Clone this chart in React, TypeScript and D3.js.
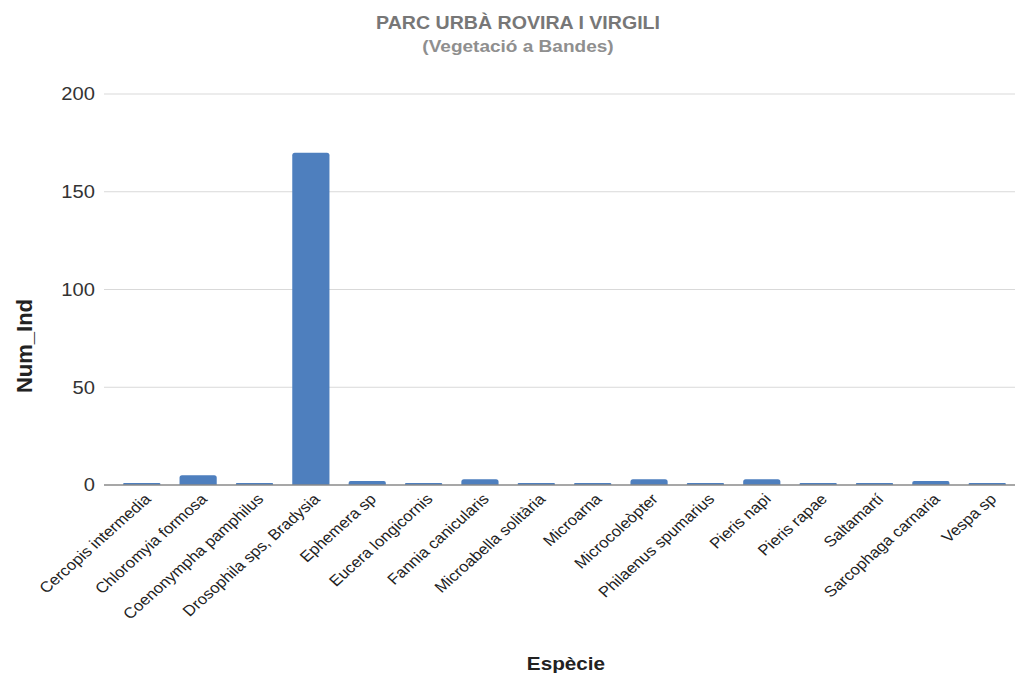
import React from "react";
import * as d3 from "d3";

const species = [
  "Cercopis intermedia",
  "Chloromyia formosa",
  "Coenonympha pamphilus",
  "Drosophila sps, Bradysia",
  "Ephemera sp",
  "Eucera longicornis",
  "Fannia canicularis",
  "Microabella solitària",
  "Microarna",
  "Microcoleòpter",
  "Philaenus spumarius",
  "Pieris napi",
  "Pieris rapae",
  "Saltamartí",
  "Sarcophaga carnaria",
  "Vespa sp",
];
const counts = [1, 5, 1, 170, 2, 1, 3, 1, 1, 3, 1, 3, 1, 1, 2, 1];
const yTicks = [0, 50, 100, 150, 200];

const W = 1015;
const H = 673;
const left = 104;
const right = 1025;
const top = 94;
const bottom = 485;
// text is drawn slightly wide
const SX = 1.12;

const FONT = "'Liberation Sans', Arial, sans-serif";

export default function App() {
  const x = d3
    .scaleBand<string>()
    .domain(species)
    .range([left, right])
    .paddingInner(0.34)
    .paddingOuter(0.34);
  const y = d3.scaleLinear().domain([0, 200]).range([bottom, top]);

  const barPath = (x0: number, y0: number, w: number, h: number) => {
    const r = Math.min(2.5, h / 2, w / 2);
    return `M${x0},${y0 + h}V${y0 + r}Q${x0},${y0} ${x0 + r},${y0}H${x0 + w - r}Q${x0 + w},${y0} ${x0 + w},${y0 + r}V${y0 + h}Z`;
  };

  return (
    <svg
      width={W}
      height={H}
      style={{ position: "absolute", left: 0, top: 0, background: "#fff" }}
      fontFamily={FONT}
    >
      <g transform={`translate(518,0) scale(${SX},1)`}>
        <text x={0} y={29} textAnchor="middle" fontSize={17.5} fontWeight="bold" fill="#777">
          PARC URBÀ ROVIRA I VIRGILI
        </text>
        <text x={0} y={52} textAnchor="middle" fontSize={17} fontWeight="bold" fill="#8f8f8f">
          (Vegetació a Bandes)
        </text>
      </g>

      {yTicks.map((t) => (
        <g key={t}>
          {t !== 0 && (
            <line x1={left} x2={W} y1={y(t)} y2={y(t)} stroke="#d9d9d9" strokeWidth={1} />
          )}
          <g transform={`translate(95,${y(t)}) scale(${SX},1)`}>
            <text x={0} y={0} dy="0.35em" textAnchor="end" fontSize={18} fill="#333">
              {t}
            </text>
          </g>
        </g>
      ))}

      {species.map((s, i) => {
        const x0 = x(s)!;
        const y0 = y(counts[i]);
        return (
          <path
            key={s}
            d={barPath(x0, y0, x.bandwidth(), bottom - y0)}
            fill="#4e7fbe"
          />
        );
      })}

      <line x1={left} x2={W} y1={bottom} y2={bottom} stroke="#8a8a8a" strokeWidth={1.5} />

      {species.map((s) => {
        const cx = x(s)! + x.bandwidth() / 2 + 10;
        const cy = 500;
        return (
          <g key={s} transform={`translate(${cx},${cy}) scale(${SX},1) rotate(-45)`}>
            <text x={0} y={0} textAnchor="end" fontSize={15} fill="#222">
              {s}
            </text>
          </g>
        );
      })}

      <text
        x={24}
        y={346}
        textAnchor="middle"
        dy="0.35em"
        fontSize={22}
        fontWeight="bold"
        fill="#222"
        transform="rotate(-90 24 346)"
      >
        Num_Ind
      </text>
      <g transform={`translate(566,670) scale(${SX},1)`}>
        <text x={0} y={0} textAnchor="middle" fontSize={18.5} fontWeight="bold" fill="#222">
          Espècie
        </text>
      </g>
    </svg>
  );
}
